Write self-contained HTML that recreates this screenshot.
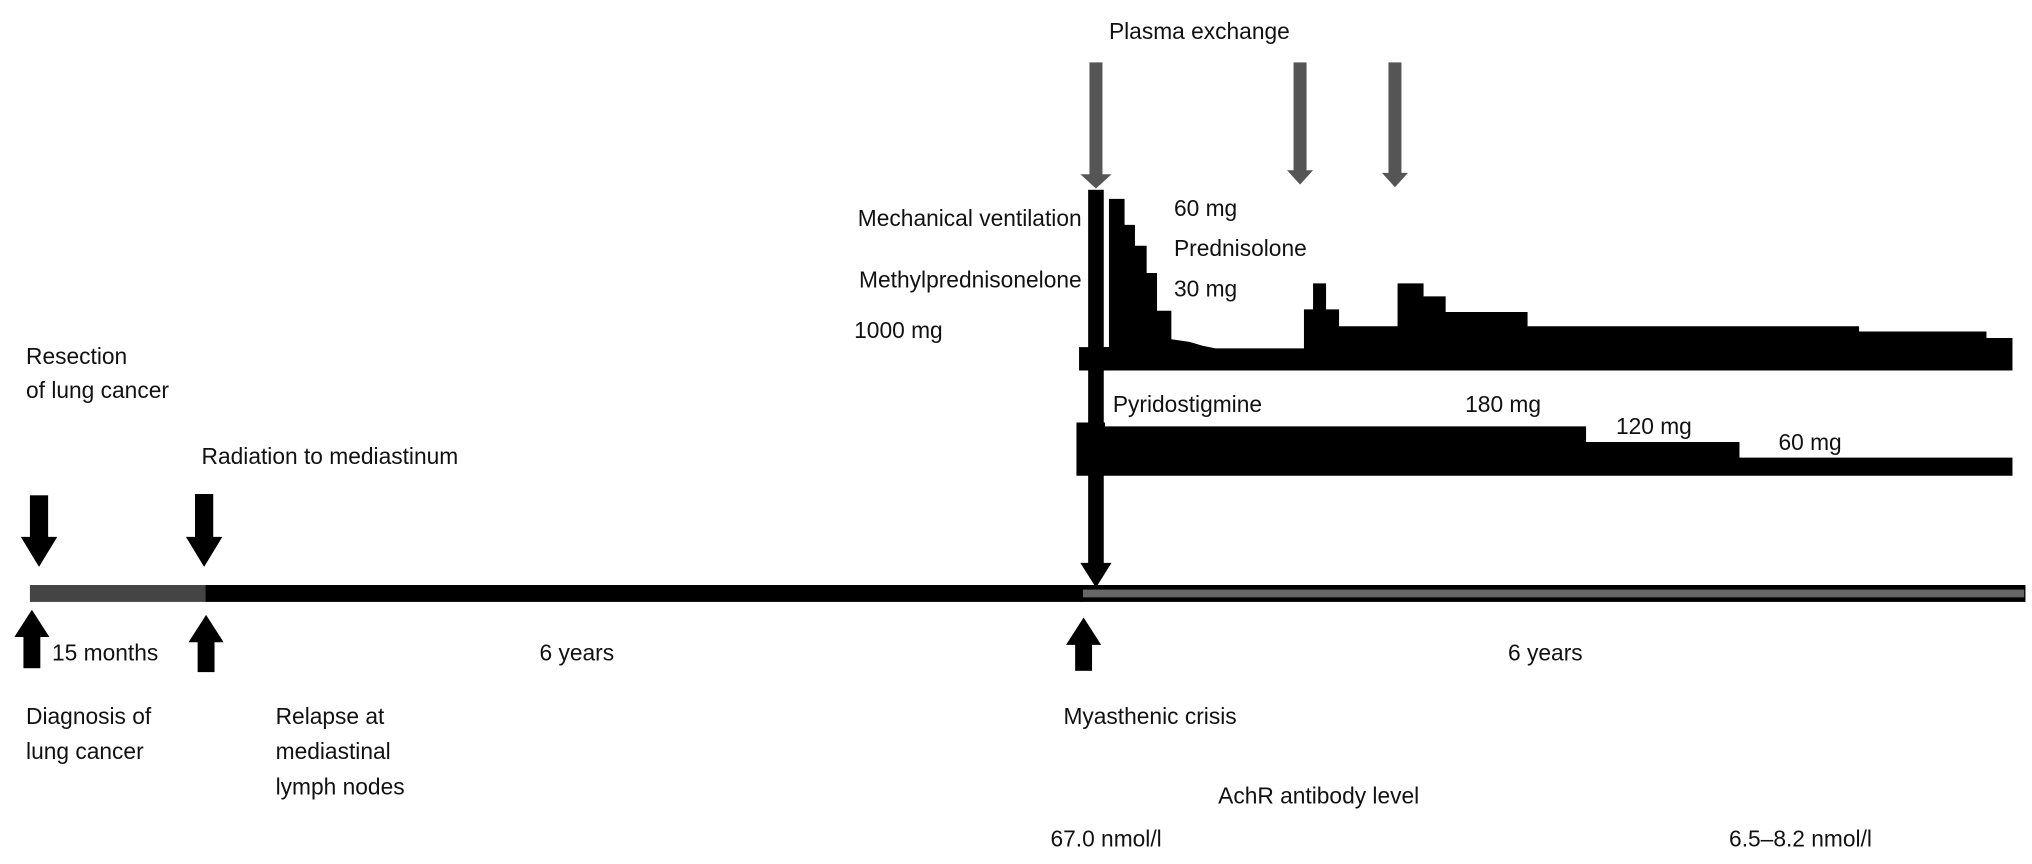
<!DOCTYPE html>
<html><head><meta charset="utf-8"><style>
html,body{margin:0;padding:0;background:#fff;}
svg{display:block;}
text{font-family:"Liberation Sans",Arial,sans-serif;font-size:17.5px;fill:#111;}
</style></head><body>
<svg width="2032" height="864" viewBox="0 0 1563 664.6" xmlns="http://www.w3.org/2000/svg">
<!-- timeline -->
<rect x="23" y="450" width="135" height="13" fill="#444"/>
<rect x="158" y="450" width="674" height="13" fill="#000"/>
<rect x="831" y="450" width="727" height="13" fill="#000"/>
<rect x="833" y="453.5" width="724" height="6" fill="#666"/>

<!-- gray plasma arrows -->
<g fill="#555">
<rect x="838" y="48" width="10" height="88"/><polygon points="831,134 855,134 843,145"/>
<rect x="995" y="48" width="10" height="85"/><polygon points="990,131 1010,131 1000,142"/>
<rect x="1068" y="48" width="10" height="87"/><polygon points="1063,133 1083,133 1073,144"/>
</g>

<!-- mechanical ventilation bar + arrow to timeline -->
<rect x="837" y="146" width="12" height="290" fill="#000"/>
<polygon points="831,433 855,433 843,452" fill="#000"/>

<!-- prednisolone -->
<polygon fill="#000" points="830,267 853,267 853,153 865,153 865,173 873,173 873,189 882,189 882,210 890,210 890,239 901,239 901,261 915,263 925,266 935,268 1003,268 1003,238 1010,238 1010,218 1020,218 1020,238 1030,238 1030,251 1075,251 1075,218 1095,218 1095,228 1112,228 1112,240 1175,240 1175,251 1430,251 1430,255 1528,255 1528,260 1548,260 1548,285 830,285"/>
<rect x="849" y="267" width="4" height="18" fill="#000"/>

<!-- pyridostigmine -->
<polygon fill="#000" points="828,325 850,325 850,328 1220,328 1220,340 1338,340 1338,352 1548,352 1548,366 828,366"/>

<!-- black arrows down -->
<g fill="#000">
<rect x="23" y="381" width="14" height="34"/><polygon points="16,413 44,413 30,436"/>
<rect x="150" y="380" width="14" height="35"/><polygon points="143,413 171,413 157,436"/>
<!-- up arrows -->
<rect x="18" y="488" width="13" height="26"/><polygon points="11,490 38,490 24.5,469"/>
<rect x="152" y="492" width="13" height="25"/><polygon points="145,494 172,494 158.5,473"/>
<rect x="827" y="494" width="13" height="22"/><polygon points="820,496 847,496 833.5,475"/>
</g>

<!-- labels -->
<text x="853" y="30">Plasma exchange</text>
<text x="832" y="174" text-anchor="end">Mechanical ventilation</text>
<text x="832" y="221" text-anchor="end">Methylprednisonelone</text>
<text x="657" y="260">1000 mg</text>
<text x="903" y="166">60 mg</text>
<text x="903" y="197">Prednisolone</text>
<text x="903" y="228">30 mg</text>
<text x="20" y="280">Resection</text>
<text x="20" y="306">of lung cancer</text>
<text x="155" y="357">Radiation to mediastinum</text>
<text x="40" y="508">15 months</text>
<text x="415" y="508">6 years</text>
<text x="1160" y="508">6 years</text>
<text x="20" y="557">Diagnosis of</text>
<text x="20" y="584">lung cancer</text>
<text x="212" y="557">Relapse at</text>
<text x="212" y="584">mediastinal</text>
<text x="212" y="611">lymph nodes</text>
<text x="818" y="557">Myasthenic crisis</text>
<text x="937" y="618">AchR antibody level</text>
<text x="808" y="651">67.0 nmol/l</text>
<text x="1330" y="651">6.5–8.2 nmol/l</text>
<text x="856" y="317">Pyridostigmine</text>
<text x="1127" y="317">180 mg</text>
<text x="1243" y="334">120 mg</text>
<text x="1368" y="346">60 mg</text>
</svg>
</body></html>
